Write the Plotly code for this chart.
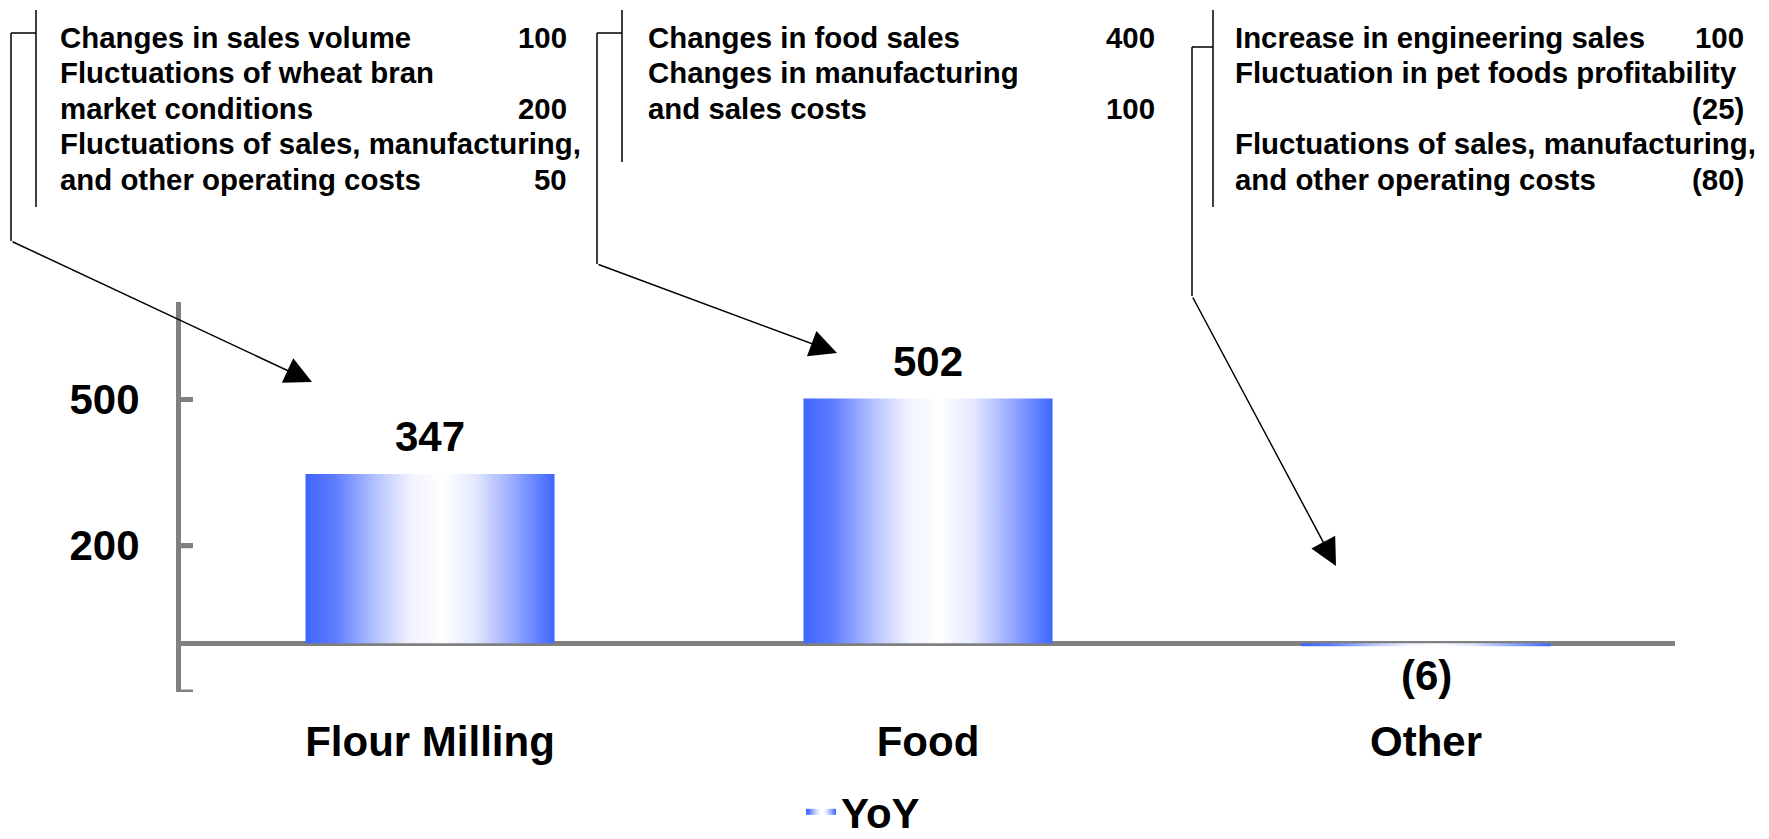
import plotly.graph_objects as go

# ---------------- data ----------------
categories = ["Flour Milling", "Food", "Other"]
yoy = [347, 502, -6]
series_name = "YoY"

y_tick_vals = [-100, 200, 500]
y_tick_text = ["", "200", "500"]

flour_factor_lines = [["Changes in sales volume"],
                      ["Fluctuations of wheat bran", "market conditions"],
                      ["Fluctuations of sales, manufacturing,", "and other operating costs"]]
flour_factor_values = [100, 200, 50]

food_factor_lines = [["Changes in food sales"],
                     ["Changes in manufacturing", "and sales costs"]]
food_factor_values = [400, 100]

other_factor_lines = [["Increase in engineering sales"],
                      ["Fluctuation in pet foods profitability", ""],
                      ["Fluctuations of sales, manufacturing,", "and other operating costs"]]
other_factor_values = [100, -25, -80]

# ---------------- layout constants ----------------
W, H = 1769, 839
L, R, T, B = 181, 94, 302, 147
PW, PH = W - L - R, H - T - B
FONT = "Liberation Sans, Arial, Helvetica, sans-serif"
BLUE = "#3D66FF"
GRAY = "#808080"


def fmt(v):
    return f"({abs(v):,})" if v < 0 else f"{v:,}"


def px(xp):
    return (xp - L) / PW


def py(yp):
    return (H - B - yp) / PH


grad = [[0.0, BLUE], [0.12, "#5f7dff"], [0.28, "#b4c2ff"], [0.42, "#f0f2ff"],
        [0.55, "#ffffff"], [0.68, "#e4e9ff"], [0.82, "#9fb0ff"], [1.0, BLUE]]

bar_width = 0.5
fig = go.Figure()
for i, (cat, v) in enumerate(zip(categories, yoy)):
    x0, x1 = i - bar_width / 2, i + bar_width / 2
    fig.add_trace(go.Scatter(
        x=[x0, x1, x1, x0, x0], y=[0, 0, v, v, 0],
        mode="none", fill="toself",
        fillgradient=dict(type="horizontal", colorscale=grad),
        name=series_name, legendgroup=series_name, showlegend=(i == 0),
        hoverinfo="skip"))

annotations = []
# value labels
for i, v in enumerate(yoy):
    annotations.append(dict(
        x=i, y=v, xref="x", yref="y", text=fmt(v), showarrow=False,
        yanchor="bottom" if v >= 0 else "top", yshift=12 if v >= 0 else -4,
        font=dict(family=FONT, size=42, color="black", weight="bold")))

# factor boxes
LINE0, LSP, TFS = 37, 35.5, 29.4


def add_box(lines, values, text_x, value_right):
    k = 0
    for item_lines, val in zip(lines, values):
        for j, line in enumerate(item_lines):
            yc = LINE0 + LSP * k
            if line:
                annotations.append(dict(
                    x=px(text_x), y=py(yc), xref="paper", yref="paper", text=line,
                    showarrow=False, xanchor="left", yanchor="middle",
                    font=dict(family=FONT, size=TFS, color="black", weight="bold")))
            if j == len(item_lines) - 1:
                annotations.append(dict(
                    x=px(value_right), y=py(yc), xref="paper", yref="paper", text=fmt(val),
                    showarrow=False, xanchor="right", yanchor="middle",
                    font=dict(family=FONT, size=TFS, color="black", weight="bold")))
            k += 1


add_box(flour_factor_lines, flour_factor_values, 58, 569)
add_box(food_factor_lines, food_factor_values, 646, 1157)
add_box(other_factor_lines, other_factor_values, 1233, 1746)

shapes = []


def seg(x0, y0, x1, y1):
    shapes.append(dict(type="line", xref="paper", yref="paper",
                       x0=px(x0), y0=py(y0), x1=px(x1), y1=py(y1),
                       line=dict(color="black", width=1.5)))


# brackets: (outer x, inner x, top of inner, bottom of inner, join y, bottom of outer, arrow tip)
brackets = [
    (11, 36, 10, 207, 33, 241, (312, 382)),
    (597, 622, 10, 162, 33, 264, (837, 353)),
    (1192, 1213, 10, 207, 47, 296, (1336, 566)),
]
for xo, xi, yt, yb, yj, yo, (tx, ty) in brackets:
    seg(xi, yt, xi, yb)
    seg(xo, yj, xi, yj)
    seg(xo, yj, xo, yo)
    annotations.append(dict(
        x=px(tx), y=py(ty), xref="paper", yref="paper", text="",
        showarrow=True, axref="pixel", ayref="pixel", ax=xo - tx, ay=yo - ty,
        arrowhead=2, arrowsize=3.6, arrowwidth=1.5, arrowcolor="black", standoff=0))

# short inside tick marks on the value axis (axis decoration)
for tv in y_tick_vals:
    shapes.append(dict(type="line", xref="paper", yref="y", layer="above",
                       x0=0, x1=12 / PW, y0=tv, y1=tv,
                       line=dict(color=GRAY, width=5)))

fig.update_layout(
    width=W, height=H,
    margin=dict(l=L, r=R, t=T, b=B, autoexpand=False),
    paper_bgcolor="white", plot_bgcolor="white",
    font=dict(family=FONT, color="black"),
    xaxis=dict(range=[-0.5, 2.5], tickvals=list(range(len(categories))), ticktext=categories,
               showgrid=False, zeroline=False, showline=False, ticks="",
               tickfont=dict(family=FONT, size=42, color="black", weight="bold"),
               ticklabelstandoff=21, fixedrange=True),
    yaxis=dict(range=[-100, 700], tickvals=y_tick_vals, ticktext=y_tick_text,
               showgrid=False, zeroline=True, zerolinecolor=GRAY, zerolinewidth=5,
               showline=True, linecolor=GRAY, linewidth=5,
               ticks="inside", ticklen=12, tickwidth=5, tickcolor=GRAY,
               tickfont=dict(family=FONT, size=42, color="black", weight="bold"),
               ticklabelstandoff=28, layer="above traces", fixedrange=True),
    showlegend=True,
    legend=dict(orientation="h", x=px(801), xanchor="left", y=py(812), yanchor="middle",
                font=dict(family=FONT, size=42, color="black", weight="bold"),
                bgcolor="rgba(0,0,0,0)"),
    annotations=annotations, shapes=shapes,
)

fig.write_html("out.html")
